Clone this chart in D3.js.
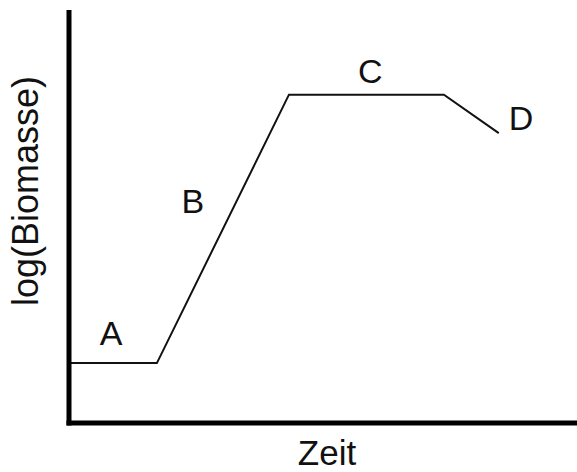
<!DOCTYPE html>
<html>
<head>
<meta charset="utf-8">
<script src="https://cdn.jsdelivr.net/npm/d3@7"></script>
<style>
  body { margin: 0; background: #fff; }
  text { font-family: "Liberation Sans", Arial, sans-serif; fill: #111; }
</style>
</head>
<body>
<svg id="chart" width="577" height="472"></svg>
<script>
// growth curve, arbitrary units
var zeit = [0.4, 17.3, 43.3, 73.8, 84.6];
var biomasse = [14.5, 14.5, 79.5, 79.5, 70.2];

var phasen = ["A", "B", "C", "D"];
var phasenX = [8.3, 24.4, 59.3, 89.0];
var phasenY = [18.9, 50.8, 82.3, 70.9];

var xTitel = "Zeit";
var yTitel = "log(Biomasse)";

var svg = d3.select("#chart");
var pxX = +svg.attr("width");
var pxY = +svg.attr("height");

var mLeft = 69, mBottom = 423, mTop = 10;

var scX = d3.scaleLinear().domain([0, 100]).range([mLeft, pxX]);
var scY = d3.scaleLinear().domain([0, 100]).range([mBottom, mTop]);

var pts = zeit.map(function(t, i) { return [t, biomasse[i]]; });

// curve
var lnMkr = d3.line()
  .x(function(d) { return scX(d[0]); })
  .y(function(d) { return scY(d[1]); });

svg.append("path")
  .attr("d", lnMkr(pts))
  .attr("fill", "none")
  .attr("stroke", "#111")
  .attr("stroke-width", 2)
  .attr("stroke-linejoin", "miter");

// axes without ticks
var axX = d3.axisBottom(scX).tickValues([]).tickSizeOuter(0);
var axY = d3.axisLeft(scY).tickValues([]).tickSizeOuter(0);

var gx = svg.append("g").attr("transform", "translate(0," + mBottom + ")").call(axX);
var gy = svg.append("g").attr("transform", "translate(" + mLeft + ",0)").call(axY);

gx.select(".domain").attr("stroke", "#000").attr("stroke-width", 5)
  .attr("d", "M" + (mLeft - 2.5) + ",0H" + pxX);
gy.select(".domain").attr("stroke", "#000").attr("stroke-width", 5)
  .attr("d", "M0," + mTop + "V" + (mBottom + 2.5));

// phase labels
svg.selectAll("text.phase").data(phasen).enter()
  .append("text")
  .attr("class", "phase")
  .attr("x", function(d, i) { return scX(phasenX[i]); })
  .attr("y", function(d, i) { return scY(phasenY[i]); })
  .attr("text-anchor", "middle")
  .style("font-size", "34px")
  .text(function(d) { return d; });

// titles
svg.append("text")
  .attr("x", 327).attr("y", 465)
  .attr("text-anchor", "middle")
  .style("font-size", "35px")
  .text(xTitel);

svg.append("text")
  .attr("transform", "translate(38,191) rotate(-90)")
  .attr("text-anchor", "middle")
  .style("font-size", "36px")
  .text(yTitel);
</script>
</body>
</html>
